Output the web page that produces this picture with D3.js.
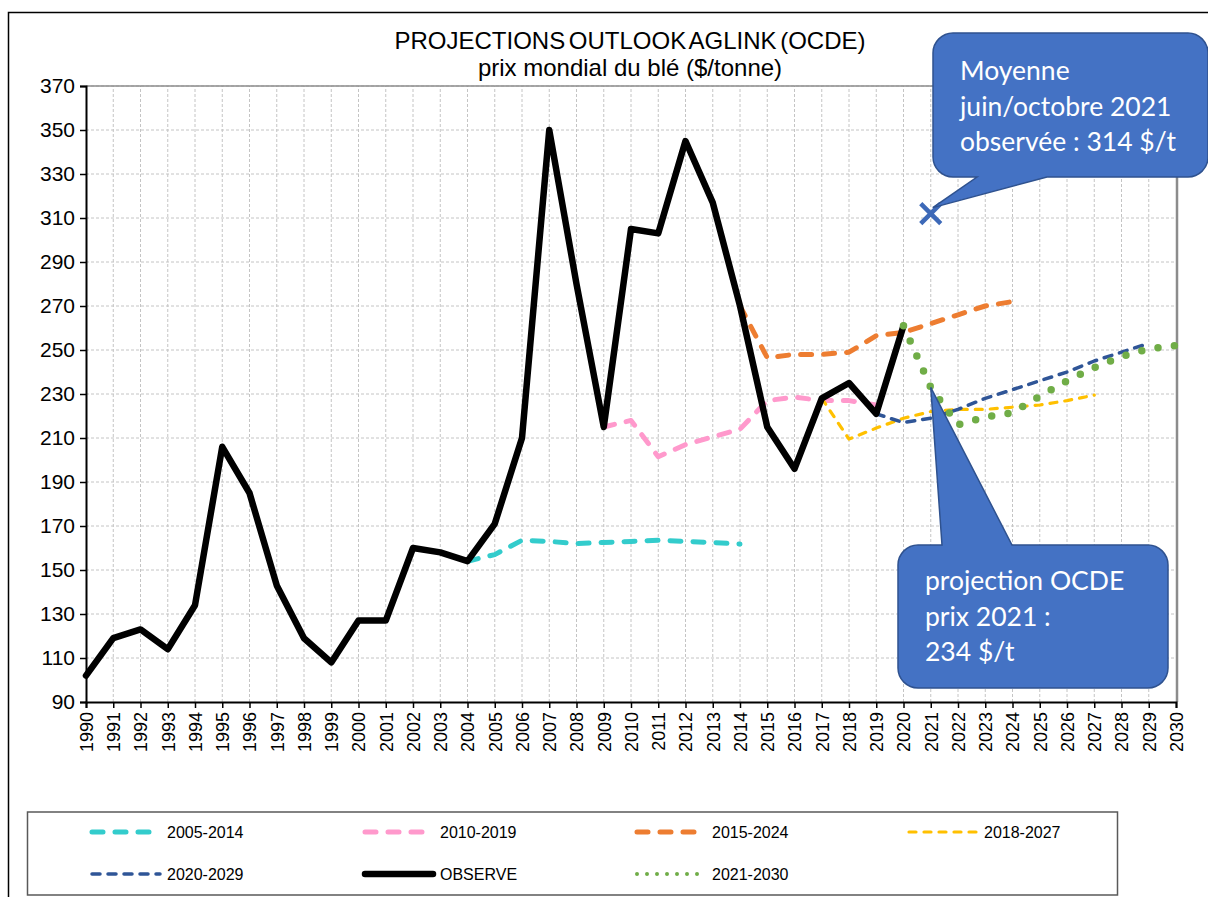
<!DOCTYPE html>
<html>
<head>
<meta charset="utf-8">
<script src="https://cdn.jsdelivr.net/npm/d3@7"></script>
<style>
    body { margin: 0; background: #fff; }
    svg { display: block; font-family: "Liberation Sans", Arial, sans-serif; }
</style>
</head>
<body>
<div id="chart"></div>
<script>
// years on the x axis (tick labels)
const years = d3.range(1990, 2031);
const yTicks = d3.range(90, 371, 20);

// observed world wheat price, 1990-2020
const observed = [102, 119, 123, 114, 134, 206, 185, 143, 119, 108,
    127, 127, 160, 158, 154, 171, 210, 350, 280, 215,
    305, 303, 345, 317, 270, 215, 196, 228, 235, 221, 261];

// OECD-FAO outlook projections (first value = last observed year)
const proj2005 = [154, 157, 163.5, 163, 162, 162.5, 163, 163.5, 163, 162.5, 161.8]; // 2004-2014
const proj2010 = [215, 218, 201.5, 207, 210.5, 214, 227, 228.6, 227, 227, 225];     // 2009-2019
const proj2015 = [270, 246.5, 248, 248, 249, 256.5, 258, 262, 266, 270, 272];       // 2014-2024
const proj2018 = [228, 209.5, 214.5, 219, 222, 223, 223, 224, 225, 227, 229.5];     // 2017-2027
const proj2020 = [221, 217, 219, 223, 228, 232, 236, 240, 245, 249, 253];           // 2019-2029
const proj2021 = [261, 233, 216, 219.5, 221.5, 229, 236, 242, 247, 250.5, 252];     // 2020-2030

const observedJuneOct2021 = 312;

const series = [
    { name: "2005-2014", start: 2004, values: proj2005, color: "#33CCCC", width: 5, dash: "11,12" },
    { name: "2010-2019", start: 2009, values: proj2010, color: "#FF99CC", width: 5, dash: "11,12" },
    { name: "2015-2024", start: 2014, values: proj2015, color: "#ED7D31", width: 5, dash: "11,12" },
    { name: "2018-2027", start: 2017, values: proj2018, color: "#FFC000", width: 3.2, dash: "7,8" },
    { name: "2020-2029", start: 2019, values: proj2020, color: "#2F5597", width: 3.5, dash: "8,8" },
    { name: "OBSERVE", start: 1990, values: observed, color: "#000000", width: 6.5, dash: null },
    { name: "2021-2030", start: 2020, values: proj2021, color: "#70AD47", width: 7.5, dash: "0,16.5" }
];

const W = 1208, H = 897;
const svg = d3.select("#chart").append("svg")
    .attr("width", W)
    .attr("height", H);

// outer chart border
svg.append("rect")
    .attr("x", 8.5).attr("y", 12.5)
    .attr("width", 1300).attr("height", 1000)
    .attr("fill", "#fff")
    .attr("stroke", "#000")
    .attr("stroke-width", 1.5);

const x = d3.scaleLinear().domain([1990, 2030]).range([86, 1176]);
const y = d3.scaleLinear().domain([90, 370]).range([702, 86]);

// grid
svg.append("g")
    .selectAll("line")
    .data(yTicks.slice(1))
    .enter()
    .append("line")
    .attr("x1", x(1990)).attr("x2", x(2030))
    .attr("y1", d => y(d)).attr("y2", d => y(d))
    .attr("stroke", "#c4c4c4")
    .attr("stroke-dasharray", "3,2");

svg.append("g")
    .selectAll("line")
    .data(years.slice(1, -1))
    .enter()
    .append("line")
    .attr("x1", d => x(d)).attr("x2", d => x(d))
    .attr("y1", y(90)).attr("y2", y(370))
    .attr("stroke", "#c4c4c4")
    .attr("stroke-dasharray", "3,2");

// plot frame top and right
svg.append("line")
    .attr("x1", x(1990)).attr("x2", x(2030))
    .attr("y1", y(370)).attr("y2", y(370))
    .attr("stroke", "#8c8c8c").attr("stroke-width", 1.5);
svg.append("line")
    .attr("x1", x(2030) + 1).attr("x2", x(2030) + 1)
    .attr("y1", y(370)).attr("y2", y(90))
    .attr("stroke", "#8c8c8c").attr("stroke-width", 2.5);

// axes
const yAxis = svg.append("g")
    .attr("transform", `translate(${x(1990)},0)`)
    .call(d3.axisLeft(y).tickValues(yTicks).tickSize(6).tickPadding(5));
yAxis.select(".domain").attr("stroke", "#000").attr("stroke-width", 2);
yAxis.selectAll(".tick line").attr("stroke", "#000").attr("stroke-width", 1.5);
yAxis.selectAll("text")
    .attr("font-size", 21)
    .attr("font-family", "Liberation Sans, Arial, sans-serif")
    .attr("fill", "#000");

const xAxis = svg.append("g")
    .attr("transform", `translate(0,${y(90)})`)
    .call(d3.axisBottom(x).tickValues(years).tickFormat(d3.format("d")).tickSize(6));
xAxis.select(".domain").attr("stroke", "#000").attr("stroke-width", 2);
xAxis.selectAll(".tick line").attr("stroke", "#000").attr("stroke-width", 1.5);
xAxis.selectAll("text")
    .attr("font-size", 18)
    .attr("font-family", "Liberation Sans, Arial, sans-serif")
    .attr("fill", "#000")
    .attr("text-anchor", "end")
    .attr("dy", "0.35em")
    .attr("transform", "translate(0,10) rotate(-90)")
    .attr("y", 0)
    .attr("x", 0);

// title
svg.append("text")
    .attr("x", 630).attr("y", 49)
    .attr("text-anchor", "middle")
    .attr("font-size", 24)
    .attr("word-spacing", -3)
    .text("PROJECTIONS OUTLOOK AGLINK (OCDE)");
svg.append("text")
    .attr("x", 630).attr("y", 76)
    .attr("text-anchor", "middle")
    .attr("font-size", 24)
    .text("prix mondial du blé ($/tonne)");

// series lines
const line = d3.line()
    .x(d => x(d.year))
    .y(d => y(d.value));

series.forEach(s => {
    const pts = s.values.map((v, i) => ({ year: s.start + i, value: v }));
    svg.append("path")
        .datum(pts)
        .attr("d", line)
        .attr("fill", "none")
        .attr("stroke", s.color)
        .attr("stroke-width", s.width)
        .attr("stroke-linecap", "round")
        .attr("stroke-linejoin", "round")
        .attr("stroke-dasharray", s.dash);
});

// observed june/october 2021 marker
const mx = x(2021), my = y(observedJuneOct2021);
svg.append("path")
    .attr("d", `M${mx - 10},${my - 10}L${mx + 10},${my + 10}M${mx - 10},${my + 10}L${mx + 10},${my - 10}`)
    .attr("stroke", "#3D69B8")
    .attr("stroke-width", 4.5)
    .attr("fill", "none");

// callouts
const callout = (b, tip, b1, b2, side) => {
    const p = d3.path();
    const { x: bx, y: by, w, h, r } = b;
    if (side === "bottom") {
        p.moveTo(bx + r, by);
        p.arcTo(bx + w, by, bx + w, by + h, r);
        p.arcTo(bx + w, by + h, bx, by + h, r);
        p.lineTo(b2, by + h);
        p.lineTo(tip[0], tip[1]);
        p.lineTo(b1, by + h);
        p.arcTo(bx, by + h, bx, by, r);
        p.arcTo(bx, by, bx + w, by, r);
    } else {
        p.moveTo(bx + r, by);
        p.lineTo(b1, by);
        p.lineTo(tip[0], tip[1]);
        p.lineTo(b2, by);
        p.arcTo(bx + w, by, bx + w, by + h, r);
        p.arcTo(bx + w, by + h, bx, by + h, r);
        p.arcTo(bx, by + h, bx, by, r);
        p.arcTo(bx, by, bx + w, by, r);
    }
    p.closePath();
    return p.toString();
};

const notes = [
    { box: { x: 933, y: 33, w: 275, h: 144, r: 20 }, tip: [mx + 2, my - 6], b1: 977, b2: 1047, side: "bottom",
      lines: ["Moyenne", "juin/octobre 2021", "observée : 314 $/t"], tx: 960, ty: 80 },
    { box: { x: 898, y: 545, w: 270, h: 143, r: 20 }, tip: [x(2021), y(proj2021[1])], b1: 942, b2: 1012, side: "top",
      lines: ["projection OCDE", "prix 2021 :", "234 $/t"], tx: 925, ty: 590 }
];

notes.forEach(n => {
    svg.append("path")
        .attr("d", callout(n.box, n.tip, n.b1, n.b2, n.side))
        .attr("fill", "#4472C4")
        .attr("stroke", "#2F528F")
        .attr("stroke-width", 1.5);
    const t = svg.append("text")
        .attr("fill", "#fff")
        .attr("font-family", "Lato, 'Open Sans', sans-serif")
        .attr("font-size", 26.5);
    n.lines.forEach((l, i) => {
        t.append("tspan")
            .attr("x", n.tx)
            .attr("y", n.ty + i * 35.5)
            .text(l);
    });
});

// legend
svg.append("rect")
    .attr("x", 27.5).attr("y", 812)
    .attr("width", 1090).attr("height", 83)
    .attr("fill", "#fff")
    .attr("stroke", "#595959")
    .attr("stroke-width", 1.5);

const legendPos = [
    [90, 832], [363, 832], [635, 832], [907, 832],
    [90, 874], [363, 874], [635, 874]
];

series.forEach((s, i) => {
    const [lx, ly] = legendPos[i];
    const g = svg.append("g").attr("transform", `translate(${lx},${ly})`);
    g.append("line")
        .attr("x1", 2).attr("x2", 70)
        .attr("stroke", s.color)
        .attr("stroke-width", s.name === "2021-2030" ? 4 : s.width)
        .attr("stroke-linecap", "round")
        .attr("stroke-dasharray", s.name === "2021-2030" ? "0,10" : s.dash);
    g.append("text")
        .attr("x", 77)
        .attr("dy", "0.35em")
        .attr("font-size", 16)
        .attr("fill", "#000")
        .text(s.name);
});
</script>
</body>
</html>
